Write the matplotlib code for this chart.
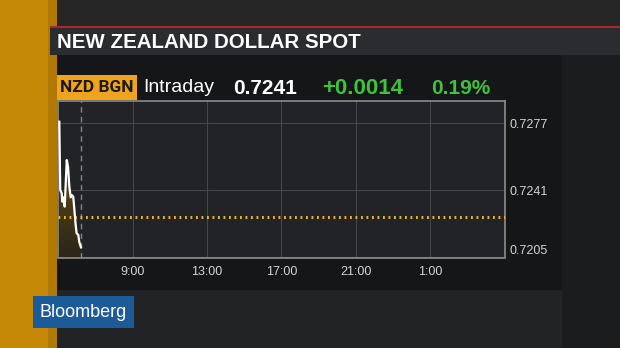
import numpy as np
import matplotlib
matplotlib.use("Agg")
import matplotlib.pyplot as plt
from matplotlib.patches import Rectangle

# intraday data (hours since midnight, spot price)
hours = [5.07, 5.12, 5.20, 5.23, 5.28, 5.36, 5.47, 5.54, 5.61, 5.68,
         5.75, 5.82, 5.88, 5.95, 6.00, 6.09, 6.14, 6.23]
price = [0.72779, 0.72412, 0.72395, 0.72350, 0.72373, 0.72323, 0.72573, 0.72537, 0.72430, 0.72373,
         0.72385, 0.72376, 0.72305, 0.72224, 0.72180, 0.72171, 0.72135, 0.72105]
prev_close = 0.7227
now_hour = 6.22

x_ticks = [9, 13, 17, 21, 25]
x_labels = ["9:00", "13:00", "17:00", "21:00", "1:00"]
y_ticks = [0.7205, 0.7241, 0.7277]
y_labels = ["0.7205", "0.7241", "0.7277"]

title = "NEW ZEALAND DOLLAR SPOT"
ticker = "NZD BGN"
last_px = "0.7241"
change = "+0.0014"
change_pct = "0.19%"

plt.rcParams['font.family'] = ['Liberation Sans', 'DejaVu Sans']

W, H = 620, 348
fig = plt.figure(figsize=(W / 100, H / 100), dpi=100)
fig.patch.set_facecolor("#1e1f21")


def box(x0, y0, x1, y1, color, z=0):
    # rectangle in pixel coords (origin top-left)
    fig.patches.append(Rectangle((x0 / W, 1 - y1 / H), (x1 - x0) / W, (y1 - y0) / H,
                                 transform=fig.transFigure, facecolor=color,
                                 edgecolor="none", zorder=z))


# background pieces
box(0, 0, 620, 27, "#262627")
box(57, 55, 562, 290, "#151618")
box(57, 290, 562, 348, "#222324")
box(562, 55, 620, 348, "#1b1c1d")
box(0, 0, 57, 348, "#c68907")
box(48, 0, 57, 348, "#b07904")
box(50, 26, 620, 28.5, "#a8282b")
box(50, 28.5, 620, 55, "#2b2c30")

fig.text(57 / W, 1 - 42 / H, title, color="white", fontsize=14.8,
         fontweight="bold", va="center", ha="left")

# header row
box(57, 75, 137, 99.5, "#f0a31c")
fig.text(97 / W, 1 - 87.5 / H, ticker, color="#1a1a1a", fontsize=12.5,
         fontweight="bold", va="center", ha="center",
         family=["Roboto", "Liberation Sans"])
fig.text(143 / W, 1 - 88 / H, "Intraday", color="white", fontsize=14,
         va="center", ha="left")
fig.text(233 / W, 1 - 89 / H, last_px, color="white", fontsize=15,
         fontweight="bold", va="center", ha="left")
fig.text(322 / W, 1 - 89 / H, change, color="#3fc23c", fontsize=16,
         fontweight="bold", va="center", ha="left")
fig.text(431 / W, 1 - 89 / H, change_pct, color="#3fc23c", fontsize=15,
         fontweight="bold", va="center", ha="left")

# Bloomberg bug
box(33, 296, 134, 328, "#1d5a98", z=1)
fig.text(83.5 / W, 1 - 312.5 / H, "Bloomberg", color="white", fontsize=13,
         va="center", ha="center", zorder=2)

# chart
ax = fig.add_axes([58 / W, 1 - 257.5 / H, 447 / W, 156.5 / H])
ax.set_zorder(5)
ax.set_facecolor("#222326")
ax.set_xlim(5, 29)
ax.set_ylim(0.7205, 0.7289)

ax.set_xticks(x_ticks)
ax.set_xticklabels(x_labels)
ax.set_yticks(y_ticks)
ax.set_yticklabels(y_labels)
ax.yaxis.tick_right()
ax.tick_params(axis="both", length=0, colors="#d4d4d4", labelsize=9)
ax.tick_params(axis="x", pad=6)
ax.tick_params(axis="y", pad=3)
for lbl in ax.get_yticklabels():
    if lbl.get_text() == "0.7205":
        lbl.set_va("bottom")
ax.grid(True, color="#45474c", lw=0.8)
ax.set_axisbelow(True)
for sp in ax.spines.values():
    sp.set_color("#8c8c8c")
    sp.set_linewidth(1.2)

# gradient fill under the line
poly = ax.fill_between(hours, price, 0.7205, color="none")
grad = np.linspace(0, 1, 100).reshape(-1, 1)
cmap = matplotlib.colors.LinearSegmentedColormap.from_list("g", ["#2b2618", "#7a5a14"])
img = ax.imshow(grad, cmap=cmap, aspect="auto", origin="lower",
                extent=[hours[0], hours[-1], 0.7205, max(price)], zorder=1)
img.set_clip_path(poly.get_paths()[0], transform=ax.transData)

ax.axhline(prev_close, color="#f2b12a", lw=2.2, ls=(0, (0.6, 1.2)),
           dash_capstyle="butt", zorder=3)
ax.axvline(now_hour, color="#858585", lw=1, ls=(0, (4, 3)), zorder=2)
ax.plot(hours, price, color="white", lw=1.6, zorder=4)
ax.set_xlim(5, 29)
ax.set_ylim(0.7205, 0.7289)

fig.savefig("out.png", dpi=100, facecolor=fig.get_facecolor())
